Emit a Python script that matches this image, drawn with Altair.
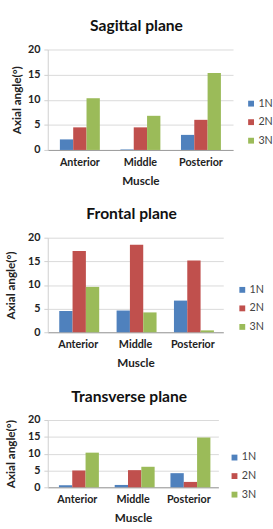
import altair as alt
import pandas as pd

muscles = ["Anterior", "Middle", "Posterior"]
forces = ["1N", "2N", "3N"]

# Axial angle (degrees) per muscle, one list per force level
sagittal_1n = [2.1, 0.1, 3.0]
sagittal_2n = [4.5, 4.5, 6.0]
sagittal_3n = [10.3, 6.8, 15.3]

frontal_1n = [4.5, 4.6, 6.7]
frontal_2n = [17.2, 18.5, 15.2]
frontal_3n = [9.6, 4.2, 0.4]

transverse_1n = [0.6, 0.7, 4.2]
transverse_2n = [5.0, 5.1, 1.6]
transverse_3n = [10.3, 6.1, 14.8]

colors = ["#4F81BD", "#C0504D", "#9BBB59"]
FONT = "Lato"


def table(s1, s2, s3):
    rows = []
    for force, series in zip(forces, [s1, s2, s3]):
        for m, v in zip(muscles, series):
            rows.append({"Muscle": m, "Force": force, "Angle": v})
    return pd.DataFrame(rows)


def panel(df, title, width, height, title_pad, legend_x, legend_y):
    return (
        alt.Chart(df)
        .mark_bar()
        .encode(
            x=alt.X(
                "Muscle:N",
                sort=muscles,
                scale=alt.Scale(paddingInner=0.34, paddingOuter=0.2),
                axis=alt.Axis(
                    title="Muscle",
                    labelAngle=0,
                    labelFont=FONT,
                    labelFontSize=11,
                    labelFontWeight="bold",
                    labelColor="#222222",
                    labelPadding=7,
                    titleFont=FONT,
                    titleFontSize=12,
                    titleFontWeight="bold",
                    titleColor="#222222",
                    titlePadding=8,
                    ticks=False,
                    domainColor="#9a9a9a",
                ),
            ),
            xOffset=alt.XOffset("Force:N", sort=forces),
            y=alt.Y(
                "Angle:Q",
                scale=alt.Scale(domain=[0, 20], nice=False),
                axis=alt.Axis(
                    title="Axial angle(°)",
                    values=[0, 5, 10, 15, 20],
                    labelFont=FONT,
                    labelFontSize=11,
                    labelFontWeight="bold",
                    labelColor="#222222",
                    labelPadding=4,
                    titleFont=FONT,
                    titleFontSize=12,
                    titleFontWeight="bold",
                    titleColor="#222222",
                    titlePadding=title_pad,
                    tickSize=4,
                    tickColor="#cfcfcf",
                    domainColor="#cfcfcf",
                    gridColor="#d9d9d9",
                ),
            ),
            color=alt.Color(
                "Force:N",
                sort=forces,
                scale=alt.Scale(domain=forces, range=colors),
                legend=alt.Legend(
                    title=None,
                    orient="none",
                    legendX=legend_x,
                    legendY=legend_y,
                    symbolType="square",
                    symbolSize=36,
                    symbolStrokeWidth=0,
                    labelFont=FONT,
                    labelFontSize=11,
                    labelColor="#444444",
                    labelOffset=2,
                    rowPadding=7,
                ),
            ),
        )
        .properties(
            width=width,
            height=height,
            title=alt.TitleParams(
                title,
                font=FONT,
                fontSize=16,
                fontWeight="bold",
                color="#111111",
                anchor="middle",
                dx=-4,
                offset=10,
            ),
        )
    )


p1 = panel(table(sagittal_1n, sagittal_2n, sagittal_3n), "Sagittal plane", 190, 103, 4, 203, 50)
p2 = panel(table(frontal_1n, frontal_2n, frontal_3n), "Frontal plane", 180, 97, 10, 194, 48)
p3 = panel(table(transverse_1n, transverse_2n, transverse_3n), "Transverse plane", 175, 69, 10, 186, 33)

chart = (
    alt.vconcat(p1, p2, p3, spacing=21)
    .resolve_scale(color="independent", x="independent", y="independent")
    .properties(padding={"left": 5, "top": 12, "right": 0, "bottom": 0}, background="white")
    .configure_view(stroke=None)
)

chart.save("out.html", embed_options={"renderer": "svg", "actions": False})
